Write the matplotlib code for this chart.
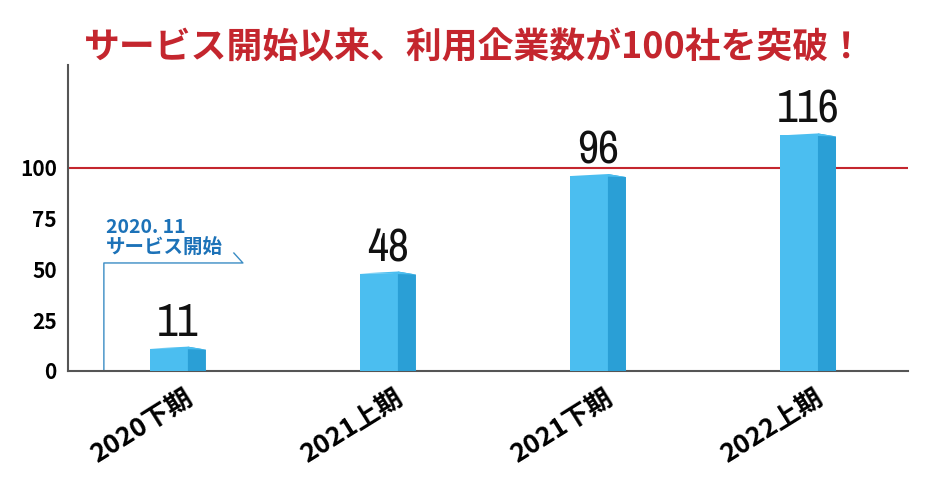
import matplotlib
matplotlib.use("Agg")
import matplotlib.pyplot as plt
import matplotlib.font_manager as fm

# data
categories = ["2020下期", "2021上期", "2021下期", "2022上期"]
values = [11, 48, 96, 116]
yticks = [0, 25, 50, 75, 100]
title = "サービス開始以来、利用企業数が100社を突破！"
note = "2020. 11\nサービス開始"

FRONT = "#4BBEF0"
SIDE = "#2A9FD6"
RED = "#C4262E"
BLUE = "#1C72B8"

# look for a narrow font for the big numbers
num_font = "Roboto"
num_stretch = "normal"
for f in fm.fontManager.ttflist:
    if "Narrow" in f.name or "Condensed" in f.name:
        num_font = f.name
        break
else:
    for f in fm.fontManager.ttflist:
        if f.name == "DejaVu Sans" and str(f.stretch) in ("condensed", "semi-condensed"):
            num_font = "DejaVu Sans"
            num_stretch = "condensed"
            break

plt.rcParams['font.family'] = ['Noto Sans CJK JP', 'DejaVu Sans']

fig = plt.figure(figsize=(9.4, 4.79), dpi=100)
ax = fig.add_axes([0.0723, 0.2255, 0.8937, 0.6388])
ax.set_xlim(-0.5, 3.5)
ax.set_ylim(0, 150.7)

# pseudo 3d bars
fl, fr, sr = -0.11, 0.071, 0.157
for i, v in enumerate(values):
    ax.bar(i + (fl + fr) / 2, v, width=fr - fl, color=FRONT, zorder=3)
    ax.fill([i + fr, i + sr, i + sr, i + fr],
            [0, 0, v - 0.5, v + 1.0], color=SIDE, lw=0, zorder=3)
    ax.fill([i + fl, i + fr, i + sr, i + fr - 0.03],
            [v, v + 1.0, v - 0.5, v - 0.2], color=FRONT, lw=0, zorder=3)
    ax.annotate(str(v), (i + (fl + sr) / 2, v), xytext=(0, 9),
                textcoords="offset points", ha="center", va="baseline",
                fontsize=33, family=num_font, fontstretch=num_stretch,
                color="#111111")

# 100 line
ax.axhline(100, color=RED, lw=1.5, zorder=2)

# service start bracket
ax.plot([-0.329, -0.329, 0.333, 0.29], [0, 53.2, 53.2, 58.1],
        color="#3A8CC4", lw=1, zorder=2)
ax.text(-0.32, 56, note, color=BLUE, fontsize=14, fontweight="bold",
        ha="left", va="bottom", linespacing=1.1)

for s in ["top", "right"]:
    ax.spines[s].set_visible(False)
for s in ["left", "bottom"]:
    ax.spines[s].set_color("#555555")
    ax.spines[s].set_linewidth(1.5)

ax.set_yticks(yticks)
ax.set_yticklabels([str(t) for t in yticks], fontsize=15, fontweight="bold")
ax.tick_params(axis="y", length=0, pad=8)

ax.set_xticks([i + 0.05 for i in range(len(categories))])
ax.set_xticklabels(categories, fontsize=19, fontweight="bold",
                   rotation=32, ha="right", rotation_mode="anchor")
ax.tick_params(axis="x", length=0, pad=10)

fig.text(0.505, 0.9, title, ha="center", va="center", fontsize=25.8,
         fontweight="bold", color=RED)

fig.savefig("out.png", dpi=100, facecolor="white")
